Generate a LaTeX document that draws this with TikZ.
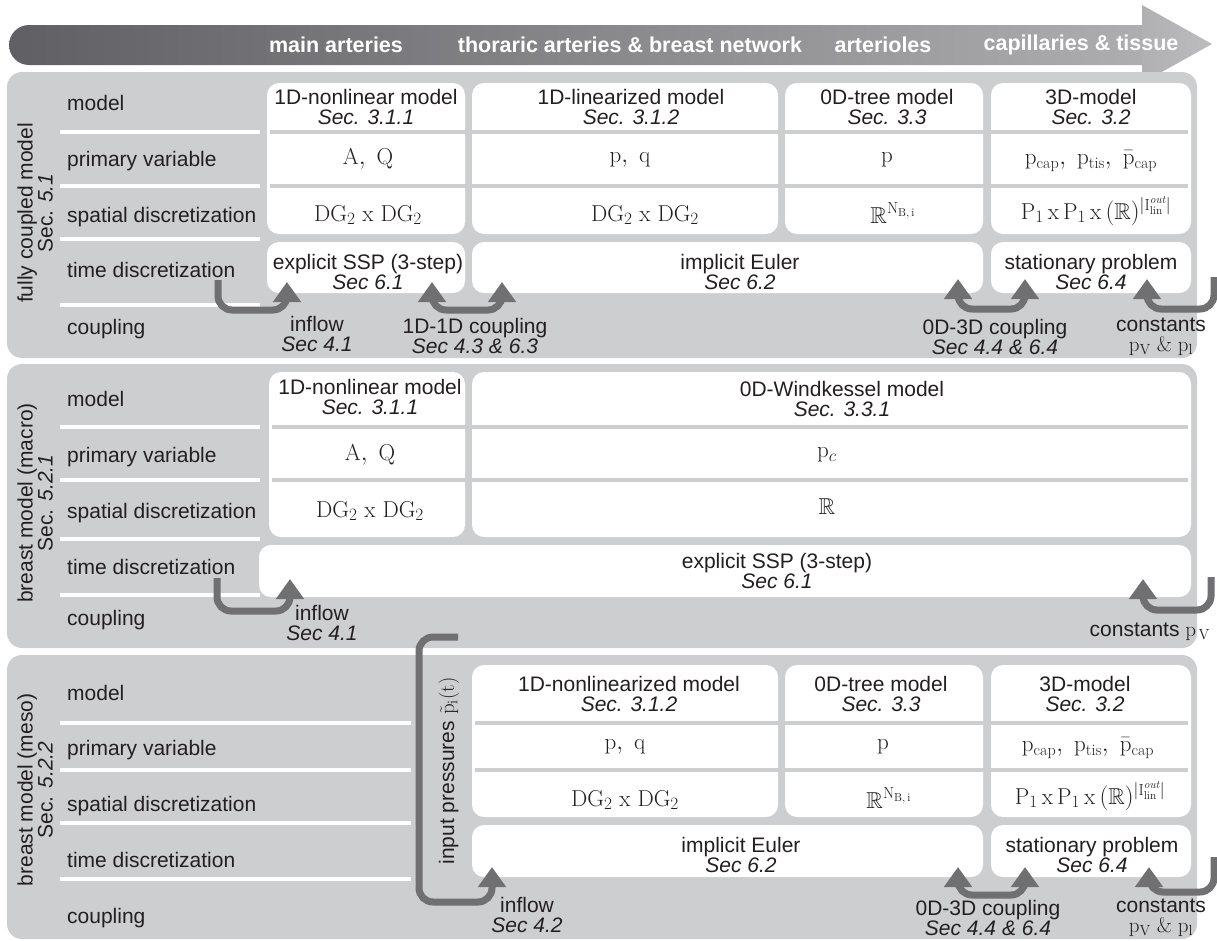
\documentclass[tikz,border=0pt]{standalone}
\usepackage{amsmath,amssymb}
\usepackage{fontspec}
\setsansfont{Liberation Sans}
\usepackage{xcolor}
\usetikzlibrary{arrows.meta}

\definecolor{panelgray}{RGB}{205,206,208}
\definecolor{conngray}{RGB}{112,112,115}
\definecolor{bardark}{RGB}{96,96,100}
\definecolor{barlight}{RGB}{176,176,179}
\definecolor{headgray}{RGB}{188,188,190}
\definecolor{ink}{RGB}{35,31,32}

\begin{document}
\begin{tikzpicture}[
  x=1pt, y=-1pt,
  panel/.style={fill=panelgray, rounded corners=15pt},
  cell/.style={fill=white, rounded corners=12pt},
  wsep/.style={draw=white, line width=4.5pt},
  gsep/.style={draw=panelgray, line width=4pt},
  txt/.style={font=\sffamily\fontsize{21}{20}\selectfont, text=ink, align=center, inner sep=0pt},
  mth/.style={txt, font=\fontsize{23}{20}\selectfont},
  rowlbl/.style={txt, anchor=base west},
  headlbl/.style={txt, text=white, font=\sffamily\bfseries\fontsize{21.5}{20}\selectfont},
  vlbl/.style={txt, rotate=90},
  conn/.style={draw=conngray, line width=7pt, rounded corners=14pt, -{Triangle[width=27pt,length=20pt]}},
  dconn/.style={conn, {Triangle[width=27pt,length=20pt]}-{Triangle[width=27pt,length=20pt]}}
]
\useasboundingbox (0,0) rectangle (1217,940);

\shade[left color=bardark, right color=barlight, rounded corners=20pt] (9,25) rectangle (1180,65);
\shade[left color=barlight, right color=headgray] (1142,5) -- (1212,44) -- (1142,83) -- cycle;
\node[headlbl] (hdA) at (336,45) {main arteries};
\node[headlbl] (hdB) at (630,45) {thoraric arteries \& breast network};
\node[headlbl] (hdC) at (883,45) {arterioles};
\node[headlbl] (hdD) at (1081,45) {capillaries \& tissue};

\fill[panel] (7,72) rectangle (1197,358);
\fill[panel] (7,364) rectangle (1197,648);
\fill[panel] (7,655) rectangle (1197,939);

\foreach \y in {132,186,239,305,427,480,539,595} \draw[wsep] (60,\y) -- (260,\y);
\foreach \y in {723,770,823,879} \draw[wsep] (60,\y) -- (411,\y);

\fill[cell] (267,83) rectangle (465,234);
\fill[cell] (472,83) rectangle (778,234);
\fill[cell] (785,83) rectangle (983,234);
\fill[cell] (991,83) rectangle (1191,234);
\fill[cell] (267,242) rectangle (465,293);
\fill[cell] (472,242) rectangle (983,293);
\fill[cell] (991,242) rectangle (1191,293);
\foreach \y in {132,186} \draw[gsep] (270,\y) -- (1188,\y);

\fill[cell] (269,372) rectangle (465,537);
\fill[cell] (472,372) rectangle (1191,537);
\fill[cell] (259,545) rectangle (1191,597);
\foreach \y in {427,480} \draw[gsep] (272,\y) -- (1188,\y);

\fill[cell] (472,665) rectangle (778,817);
\fill[cell] (785,665) rectangle (983,817);
\fill[cell] (991,665) rectangle (1191,817);
\fill[cell] (472,825) rectangle (983,877);
\fill[cell] (991,825) rectangle (1191,877);
\foreach \y in {723,770} \draw[gsep] (475,\y) -- (1188,\y);

\foreach \t/\y [count=\i] in {model/103,primary variable/159,spatial discretization/215,time discretization/270,coupling/327}
  \node[rowlbl] (fcr\i) at (67,\y+7) {\t};
\foreach \t/\y [count=\i] in {model/399,primary variable/455,spatial discretization/511,time discretization/567,coupling/618}
  \node[rowlbl] (mar\i) at (67,\y+7) {\t};
\foreach \t/\y [count=\i] in {model/693,primary variable/748,spatial discretization/804,time discretization/860,coupling/916}
  \node[rowlbl] (mer\i) at (67,\y+7) {\t};

\node[vlbl] (fcm) at (35,213) {fully coupled model\\Sec. \textit{5.1}};
\node[vlbl] (bmac) at (35,503) {breast model (macro)\\Sec. \textit{5.2.1}};
\node[vlbl] (bmes) at (35,790) {breast model (meso)\\Sec. \textit{5.2.2}};

\node[txt] (m11) at (366,107) {1D-nonlinear model\\\textit{Sec. 3.1.1}};
\node[txt] (m12) at (631,107) {1D-linearized model\\\textit{Sec. 3.1.2}};
\node[txt] (m13) at (887,107) {0D-tree model\\\textit{Sec. 3.3}};
\node[txt] (m14) at (1091,107) {3D-model\\\textit{Sec. 3.2}};
\node[mth] (v11) at (368,159) {$\mathrm{A},\ \mathrm{Q}$};
\node[mth] (v12) at (630,160) {$\mathrm{p},\ \mathrm{q}$};
\node[mth] (v13) at (887,160) {$\mathrm{p}$};
\node[mth] (v14) at (1091,161) {$\mathrm{p}_{\mathrm{cap}},\ \mathrm{p}_{\mathrm{tis}},\ \bar{\mathrm{p}}_{\mathrm{cap}}$};
\node[mth] (s11) at (368,215) {$\mathrm{DG}_2\ \mathrm{x}\ \mathrm{DG}_2$};
\node[mth] (s12) at (645,215) {$\mathrm{DG}_2\ \mathrm{x}\ \mathrm{DG}_2$};
\node[mth] (s13) at (893,213) {$\mathbb{R}^{\mathrm{N}_{\mathrm{B,\,i}}}$};
\node[mth] (s14) at (1096,211) {$\mathrm{P}_1\,\mathrm{x}\,\mathrm{P}_1\,\mathrm{x}\,(\mathbb{R})^{\left|\mathrm{I}_{\mathrm{lin}}^{\mathit{out}}\right|}$};
\node[txt] (t11) at (368,272) {explicit SSP (3-step)\\\textit{Sec 6.1}};
\node[txt] (t12) at (740,272) {implicit Euler\\\textit{Sec 6.2}};
\node[txt] (t14) at (1091,272) {stationary problem\\\textit{Sec 6.4}};

\node[txt] (m21) at (370,397) {1D-nonlinear model\\\textit{Sec. 3.1.1}};
\node[txt] (m22) at (842,399) {0D-Windkessel model\\\textit{Sec. 3.3.1}};
\node[mth] (v21) at (370,455) {$\mathrm{A},\ \mathrm{Q}$};
\node[mth] (v22) at (827,455) {$\mathrm{p}_{c}$};
\node[mth] (s21) at (370,511) {$\mathrm{DG}_2\ \mathrm{x}\ \mathrm{DG}_2$};
\node[mth] (s22) at (827,507) {$\mathbb{R}$};
\node[txt] (t21) at (777,571) {explicit SSP (3-step)\\\textit{Sec 6.1}};

\node[vlbl] (ipp) at (449,771) {input pressures $\tilde{\mathrm{p}}_{\mathrm{i}}(\mathrm{t})$};
\node[txt] (m32) at (629,694) {1D-nonlinearized model\\\textit{Sec. 3.1.2}};
\node[txt] (m33) at (881,694) {0D-tree model\\\textit{Sec. 3.3}};
\node[txt] (m34) at (1085,694) {3D-model\\\textit{Sec. 3.2}};
\node[mth] (v32) at (625,747) {$\mathrm{p},\ \mathrm{q}$};
\node[mth] (v33) at (883,747) {$\mathrm{p}$};
\node[mth] (v34) at (1088,748) {$\mathrm{p}_{\mathrm{cap}},\ \mathrm{p}_{\mathrm{tis}},\ \bar{\mathrm{p}}_{\mathrm{cap}}$};
\node[mth] (s32) at (625,800) {$\mathrm{DG}_2\ \mathrm{x}\ \mathrm{DG}_2$};
\node[mth] (s33) at (889,798) {$\mathbb{R}^{\mathrm{N}_{\mathrm{B,\,i}}}$};
\node[mth] (s34) at (1090,796) {$\mathrm{P}_1\,\mathrm{x}\,\mathrm{P}_1\,\mathrm{x}\,(\mathbb{R})^{\left|\mathrm{I}_{\mathrm{lin}}^{\mathit{out}}\right|}$};
\node[txt] (t32) at (741,855) {implicit Euler\\\textit{Sec 6.2}};
\node[txt] (t34) at (1092,855) {stationary problem\\\textit{Sec 6.4}};

\node[txt] (c11) at (317,334) {inflow\\\textit{Sec 4.1}};
\node[txt] (c12) at (475,336) {1D-1D coupling\\\textit{Sec 4.3 \& 6.3}};
\node[txt] (c13) at (995,337) {0D-3D coupling\\\textit{Sec 4.4 \& 6.4}};
\node[txt] (c14) at (1161,337) {constants\\$\mathrm{p}_{\mathrm{V}}$ {\rmfamily\&} $\mathrm{p}_{\mathrm{l}}$};
\node[txt] (c21) at (322,623) {inflow\\\textit{Sec 4.1}};
\node[txt, anchor=east] (c22) at (1210,632) {constants $\mathrm{p}_{\,\mathrm{V}}$};
\node[txt] (c31) at (527,915) {inflow\\\textit{Sec 4.2}};
\node[txt] (c33) at (988,918) {0D-3D coupling\\\textit{Sec 4.4 \& 6.4}};
\node[txt] (c34) at (1161,918) {constants\\$\mathrm{p}_{\mathrm{V}}$ {\rmfamily\&} $\mathrm{p}_{\mathrm{l}}$};

\coordinate (inA) at (218,280);   \coordinate (inAt) at (287,282);
\coordinate (ddA) at (432,282);   \coordinate (ddAt) at (502,282);
\coordinate (otA) at (958,279);   \coordinate (otAt) at (1025,279);
\coordinate (kA) at (1214,277);   \coordinate (kAt) at (1147,279);
\coordinate (inB) at (217,578);   \coordinate (inBt) at (290,579);
\coordinate (kB) at (1211,577);   \coordinate (kBt) at (1143,579);
\coordinate (ipS) at (458,637);   \coordinate (ipSt) at (492,867);
\coordinate (otC) at (958,867);   \coordinate (otCt) at (1025,867);
\coordinate (kC) at (1214,857);   \coordinate (kCt) at (1149,867);

\draw[conn] (inA) -- ++(0,30) -| (inAt);
\draw[dconn] (ddA) -- ++(0,28) -| (ddAt);
\draw[dconn] (otA) -- ++(0,30) -| (otAt);
\draw[conn] (kA) -- ++(0,32) -| (kAt);
\draw[conn] (inB) -- ++(0,33) -| (inBt);
\draw[conn] (kB) -- ++(0,33) -| (kBt);
\draw[conn] (ipS) -| ++(-39,265) -| (ipSt);
\draw[dconn] (otC) -- ++(0,28) -| (otCt);
\draw[conn] (kC) -- ++(0,35) -| (kCt);

\end{tikzpicture}
\end{document}
